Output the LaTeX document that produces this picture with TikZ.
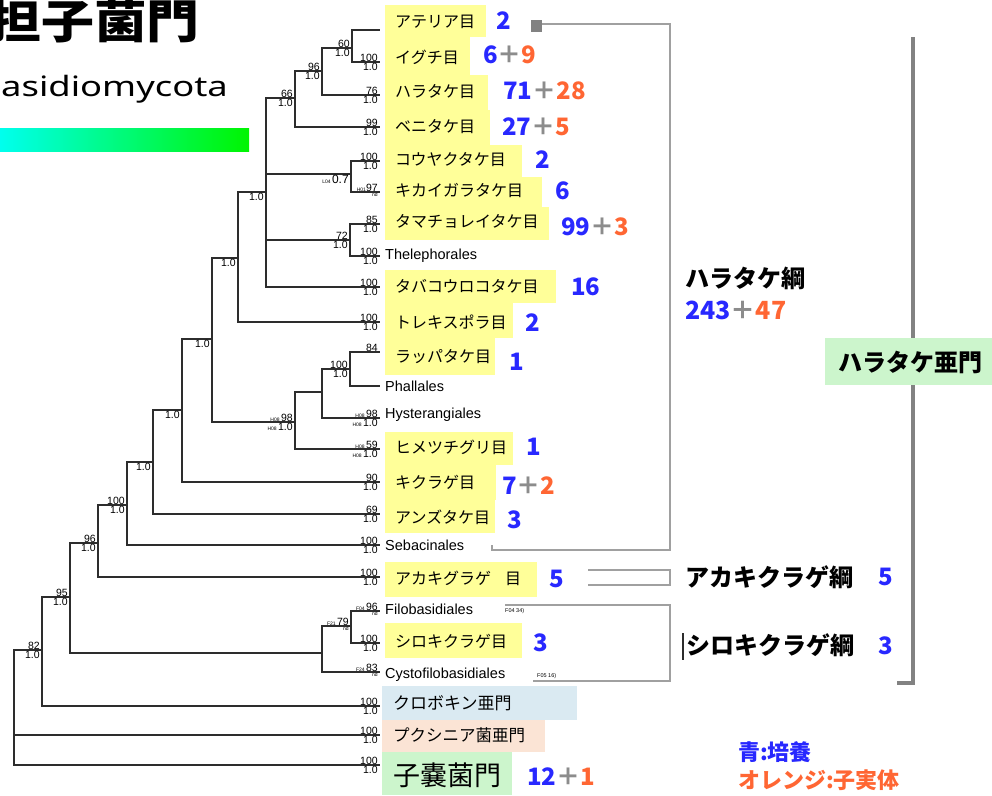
\documentclass[tikz,border=0pt]{standalone}
\usepackage{fontspec}
\setmainfont{Liberation Sans}
\newfontfamily\jp{Noto Sans CJK JP}
\newfontfamily\nsans{Noto Sans}
\definecolor{nblue}{RGB}{40,40,255}
\definecolor{norange}{RGB}{255,102,51}
\definecolor{ngray}{RGB}{140,140,140}
\definecolor{ylw}{RGB}{255,255,153}
\definecolor{lgreen}{RGB}{204,245,204}
\definecolor{lblue}{RGB}{218,234,242}
\definecolor{peach}{RGB}{251,228,213}
\definecolor{brk}{RGB}{160,160,160}
\definecolor{brk2}{RGB}{130,130,130}
\definecolor{treec}{RGB}{45,45,45}
\definecolor{gcyan}{RGB}{0,255,238}
\definecolor{ggreen}{RGB}{0,245,0}
\newcommand\Bn[1]{\textcolor{nblue}{#1}}
\newcommand\On[1]{\textcolor{norange}{#1}}
\newcommand\Pl{\textcolor{ngray}{＋}}
\newcommand\tn[1]{{\fontsize{5}{5}\selectfont #1}}
\newcommand\supp[3]{%
  \node[stop] (#1-t) at (#1) {#2};
  \node[sbot] (#1-b) at (#1) {#3};}
\tikzset{
  branch/.style={draw=treec, line width=1.6pt},
  stop/.style={anchor=south east, font=\fontsize{10.5}{10.5}\selectfont, inner sep=0.6pt, xshift=-1.5pt},
  sbot/.style={anchor=north east, font=\fontsize{10.5}{10.5}\selectfont, inner sep=0.6pt, xshift=-1.5pt},
  jlab/.style={anchor=west, font=\jp\fontsize{16}{16}\selectfont, inner sep=0pt},
  elab/.style={anchor=west, font=\fontsize{14.5}{14.5}\selectfont, inner sep=0pt},
  num/.style={anchor=west, font=\jp\bfseries\fontsize{24}{24}\selectfont, inner sep=0pt},
  big/.style={anchor=west, font=\jp\bfseries\fontsize{24}{24}\selectfont, inner sep=0pt},
  bline/.style={draw=brk, line width=2pt},
}
\begin{document}
\begin{tikzpicture}[x=1pt,y=-1pt]
\useasboundingbox (0,0) rectangle (992,795);
\clip (0,0) rectangle (992,795);
% title
\node[anchor=east, font=\jp\bfseries\fontsize{46}{46}\selectfont, inner sep=0] (title) at (200,21) {\scalebox{1.15}[1]{担子菌門}};
\node[anchor=west, font=\nsans\fontsize{28}{28}\selectfont, inner sep=0] (subt) at (1,89) {\scalebox{1.3}[1]{asidiomycota}};
\shade[left color=gcyan, right color=ggreen] (0,128) rectangle (249,151);
% background boxes
\fill[ylw] (385,5) rectangle (486,37);
\fill[ylw] (385,37) rectangle (470,75);
\fill[ylw] (385,75) rectangle (488,110);
\fill[ylw] (385,110) rectangle (490,145);
\fill[ylw] (385,145) rectangle (522,177);
\fill[ylw] (385,177) rectangle (542,207);
\fill[ylw] (385,207) rectangle (549,240);
\fill[ylw] (385,270) rectangle (556,303);
\fill[ylw] (385,303) rectangle (513,338);
\fill[ylw] (385,338) rectangle (495,375);
\fill[ylw] (385,432) rectangle (513,465);
\fill[ylw] (385,465) rectangle (496,500);
\fill[ylw] (385,500) rectangle (495,533);
\fill[ylw] (385,562) rectangle (537,597);
\fill[ylw] (385,623) rectangle (522,658);
\fill[lblue] (382,686) rectangle (577,720);
\fill[peach] (382,720) rectangle (545,752);
\fill[lgreen] (382,752) rectangle (512,795);
% leaves
\coordinate (L1) at (380,30);
\coordinate (L2) at (380,62);
\coordinate (L3) at (380,95);
\coordinate (L4) at (380,127);
\coordinate (L5) at (380,161);
\coordinate (L6) at (380,192);
\coordinate (L7) at (380,224);
\coordinate (L8) at (380,256);
\coordinate (L9) at (380,287);
\coordinate (L10) at (380,322);
\coordinate (L11) at (380,352);
\coordinate (L12) at (380,386);
\coordinate (L13) at (380,418);
\coordinate (L14) at (380,449);
\coordinate (L15) at (380,482);
\coordinate (L16) at (380,514);
\coordinate (L17) at (380,545);
\coordinate (L18) at (380,577);
\coordinate (L19) at (380,611);
\coordinate (L20) at (380,643);
\coordinate (L21) at (380,672);
\coordinate (L22) at (380,706);
\coordinate (L23) at (380,735);
\coordinate (L24) at (380,765);
% internal nodes
\coordinate (n60) at (352,48);
\coordinate (n96) at (322,71);
\coordinate (n66) at (295,98);
\coordinate (n07) at (351,174);
\coordinate (n72) at (350,240);
\coordinate (nA) at (266,192);
\coordinate (nB) at (238,258);
\coordinate (nP1) at (350,369);
\coordinate (nP2) at (322,392);
\coordinate (nH98) at (295,422);
\coordinate (nC) at (212,339);
\coordinate (nD) at (182,410);
\coordinate (nE) at (153,462);
\coordinate (nF) at (127,505);
\coordinate (nG) at (98,543);
\coordinate (nF79) at (351,626);
\coordinate (nFilo) at (322,653);
\coordinate (nH) at (70,597);
\coordinate (nI) at (42,650);
\coordinate (root) at (14,700);
% branches
\draw[branch] (n60) |- (L1) (n60) |- (L2);
\draw[branch] (n96) |- (n60) (n96) |- (L3);
\draw[branch] (n66) |- (n96) (n66) |- (L4);
\draw[branch] (n07) |- (L5) (n07) |- (L6);
\draw[branch] (n72) |- (L7) (n72) |- (L8);
\draw[branch] (nA) |- (n66) (nA) |- (n07) (nA) |- (n72) (nA) |- (L9);
\draw[branch] (nB) |- (nA) (nB) |- (L10);
\draw[branch] (nP1) |- (L11) (nP1) |- (L12);
\draw[branch] (nP2) |- (nP1) (nP2) |- (L13);
\draw[branch] (nH98) |- (nP2) (nH98) |- (L14);
\draw[branch] (nC) |- (nB) (nC) |- (nH98);
\draw[branch] (nD) |- (nC) (nD) |- (L15);
\draw[branch] (nE) |- (nD) (nE) |- (L16);
\draw[branch] (nF) |- (nE) (nF) |- (L17);
\draw[branch] (nG) |- (nF) (nG) |- (L18);
\draw[branch] (nF79) |- (L19) (nF79) |- (L20);
\draw[branch] (nFilo) |- (nF79) (nFilo) |- (L21);
\draw[branch] (nH) |- (nG) (nH) |- (nFilo);
\draw[branch] (nI) |- (nH) (nI) |- (L22);
\draw[branch] (root) |- (nI) (root) |- (L23) (root) |- (L24);
% support values
\supp{L2}{100}{1.0}
\supp{L3}{76}{1.0}
\supp{L4}{99}{1.0}
\supp{L5}{100}{1.0}
\supp{L6}{\tn{H01}97}{\tn{nd}}
\supp{L7}{85}{1.0}
\supp{L8}{100}{1.0}
\supp{L9}{100}{1.0}
\supp{L10}{100}{1.0}
\node[stop] (L11-t) at (L11) {84};
\supp{L13}{\tn{H08 }98}{\tn{H08 }1.0}
\supp{L14}{\tn{H08 }59}{\tn{H08 }1.0}
\supp{L15}{90}{1.0}
\supp{L16}{69}{1.0}
\supp{L17}{100}{1.0}
\supp{L18}{100}{1.0}
\supp{L19}{\tn{F04 }96}{\tn{nd}}
\supp{L20}{100}{1.0}
\supp{L21}{\tn{F24 }83}{\tn{nd}}
\supp{L22}{100}{1.0}
\supp{L23}{100}{1.0}
\supp{L24}{100}{1.0}
\supp{n60}{60}{1.0}
\supp{n96}{96}{1.0}
\supp{n66}{66}{1.0}
\node[sbot, font=\fontsize{12}{12}\selectfont] (n07-b) at (n07) {\tn{L04 }0.7};
\supp{n72}{72}{1.0}
\node[sbot] (nA-b) at (nA) {1.0};
\node[sbot] (nB-b) at (nB) {1.0};
\node[sbot] (nC-b) at (nC) {1.0};
\node[sbot] (nD-b) at (nD) {1.0};
\node[sbot] (nE-b) at (nE) {1.0};
\supp{nF}{100}{1.0}
\supp{nG}{96}{1.0}
\supp{nP1}{100}{1.0}
\supp{nH98}{\tn{H08 }98}{\tn{H08 }1.0}
\supp{nF79}{\tn{F21 }79}{\tn{nd}}
\supp{nH}{95}{1.0}
\supp{nI}{82}{1.0}
% leaf labels
\node[jlab] (t1) at (395,22) {アテリア目};
\node[jlab] (t2) at (395,57) {イグチ目};
\node[jlab] (t3) at (395,92) {ハラタケ目};
\node[jlab] (t4) at (395,127) {ベニタケ目};
\node[jlab] (t5) at (395,160) {コウヤクタケ目};
\node[jlab] (t6) at (395,190) {キカイガラタケ目};
\node[jlab] (t7) at (395,222) {タマチョレイタケ目};
\node[elab] (t8) at (385,256) {Thelephorales};
\node[jlab] (t9) at (395,287) {タバコウロコタケ目};
\node[jlab] (t10) at (395,322) {トレキスポラ目};
\node[jlab] (t11) at (395,357) {ラッパタケ目};
\node[elab] (t12) at (385,386) {Phallales};
\node[elab] (t13) at (385,415) {Hysterangiales};
\node[jlab] (t14) at (395,447) {ヒメツチグリ目};
\node[jlab] (t15) at (395,482) {キクラゲ目};
\node[jlab] (t16) at (395,517) {アンズタケ目};
\node[elab] (t17) at (385,545) {Sebacinales};
\node[jlab] (t18) at (395,578) {アカキグラゲ\hspace{14pt}目};
\node[elab] (t19) at (385,609) {Filobasidiales};
\node[jlab] (t20) at (395,641) {シロキクラゲ目};
\node[elab] (t21) at (385,675) {Cystofilobasidiales};
\node[jlab, font=\jp\fontsize{17}{17}\selectfont] (t22) at (393,703) {クロボキン亜門};
\node[jlab, font=\jp\fontsize{16.5}{16.5}\selectfont] (t23) at (393,735) {プクシニア菌亜門};
\node[jlab, font=\jp\fontsize{27}{27}\selectfont] (t24) at (393,775) {子嚢菌門};
% counts
\node[num] (c1) at (496,21) {\Bn{2}};
\node[num] (c2) at (483,55) {\Bn{6}\Pl\On{9}};
\node[num] (c3) at (503,91) {\Bn{71}\Pl\On{28}};
\node[num] (c4) at (502,127) {\Bn{27}\Pl\On{5}};
\node[num] (c5) at (535,160) {\Bn{2}};
\node[num] (c6) at (555,191) {\Bn{6}};
\node[num] (c7) at (561,227) {\Bn{99}\Pl\On{3}};
\node[num] (c9) at (571,287) {\Bn{16}};
\node[num] (c10) at (525,323) {\Bn{2}};
\node[num] (c11) at (509,362) {\Bn{1}};
\node[num] (c14) at (526,447) {\Bn{1}};
\node[num] (c15) at (502,486) {\Bn{7}\Pl\On{2}};
\node[num] (c16) at (507,520) {\Bn{3}};
\node[num] (c18) at (549,579) {\Bn{5}};
\node[num] (c20) at (533,643) {\Bn{3}};
\node[num] (c24) at (527,777) {\Bn{12}\Pl\On{1}};
% tiny notes
\node[anchor=west, inner sep=0] (f34) at (505,611) {\fontsize{5.5}{5.5}\selectfont F04 34)};
\node[anchor=west, inner sep=0] (f16) at (537,676) {\fontsize{5.5}{5.5}\selectfont F05 16)};
% class brackets
\draw[bline] (538,24) -- (670,24) -- (670,550) -- (492,550) -- (492,545);
\fill[brk2] (531,20) rectangle (542,32);
\draw[bline] (588,570) -- (670,570) -- (670,585) -- (588,585);
\draw[bline] (505,605) -- (670,605) -- (670,681) -- (533,681);
\draw[draw=brk2, line width=3.5pt] (913,37) -- (913,683) -- (897,683);
\fill[lgreen] (825,338) rectangle (992,385);
\node[big] (sub1) at (838,362) {ハラタケ亜門};
\node[big] (cl1) at (685,278) {ハラタケ綱};
\node[num, font=\jp\bfseries\fontsize{25}{25}\selectfont] (cl1n) at (685,310) {\Bn{243}\Pl\On{47}};
\node[big] (cl2) at (685,577) {アカキクラゲ綱};
\node[num] (cl2n) at (878,577) {\Bn{5}};
\draw[treec, line width=1.2pt] (683,633) -- (683,660);
\node[big] (cl3) at (686,645) {シロキクラゲ綱};
\node[num] (cl3n) at (878,646) {\Bn{3}};
% legend
\node[anchor=west, font=\jp\bfseries\fontsize{22}{22}\selectfont, text=nblue, inner sep=0] (lg1) at (738,752) {青:培養};
\node[anchor=west, font=\jp\bfseries\fontsize{22}{22}\selectfont, text=norange, inner sep=0] (lg2) at (738,780) {オレンジ:子実体};
\end{tikzpicture}
\end{document}
